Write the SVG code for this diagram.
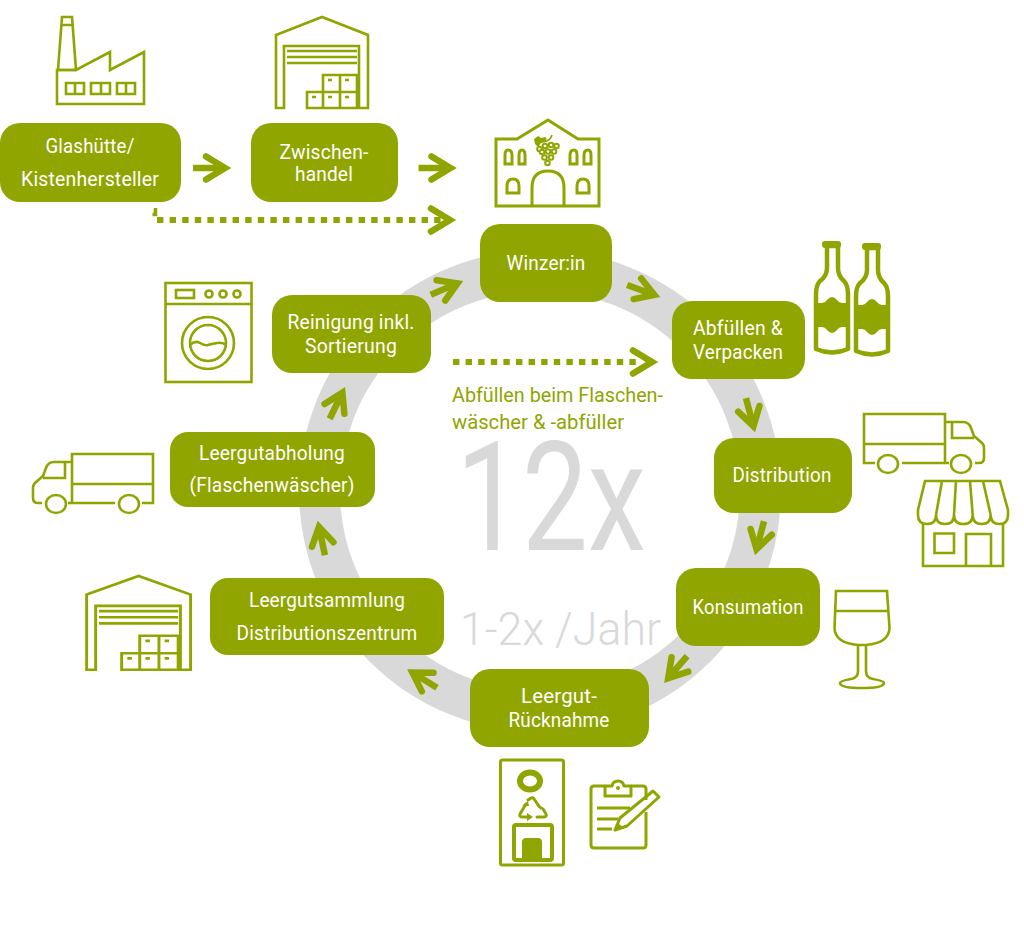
<svg xmlns="http://www.w3.org/2000/svg" xmlns:xlink="http://www.w3.org/1999/xlink" width="1024" height="932" viewBox="0 0 1024 932">
<style>
.box{fill:#90a500}
.t{font-family:Roboto,"Liberation Sans",sans-serif;font-size:19.5px;fill:#fff;text-anchor:middle;letter-spacing:.2px}
.g{font-family:Roboto,"Liberation Sans",sans-serif;fill:#d9d9d9;font-weight:400}
.i{fill:none;stroke:#90a500;stroke-width:2.6;stroke-linejoin:miter}
.a{fill:none;stroke:#90a500;stroke-width:6.500;stroke-linecap:round;stroke-linejoin:miter;stroke-miterlimit:8}
.s{fill:none;stroke:#90a500;stroke-width:6.500}
.d{fill:none;stroke:#90a500;stroke-width:6;stroke-dasharray:6.4 6.2}
.f{fill:#90a500}
.w{fill:#fff}
</style>
<defs>
<g id="arr"><path class="s" d="M-35,0H-8"/><path class="a" d="M-24,-11L-6,0L-24,11"/></g>
<g id="arrB"><path class="s" d="M-38,0H-8"/><path class="a" d="M-25,-11.500L-6,0L-25,11.500"/></g>
<g id="wh" class="i">
<path d="M1,19L47,1L93,19V92H84V30H9V92H1Z"/>
<path d="M12,35H82M12,41H82M12,47H82"/>
<path d="M32,76H48V92H32ZM48,76H65V92H48ZM65,76H82V92H65ZM48,59H65V76H48ZM65,59H82V76H65Z"/>
<path d="M37,81h4M53,81h4M70,81h4M53,64h4M70,64h4"/>
</g>
<g id="truck" class="i">
<path d="M875,463H864V414H945V463H902M864,444H945M945,422H963Q969,422 971,428L974,436L982,443Q984,445 984,448V458Q984,463 979,463H975M952,422V438H974M945,463H949"/>
<ellipse cx="888" cy="464" rx="10" ry="9"/>
<ellipse cx="961" cy="464" rx="10" ry="9"/>
</g>
<g id="bottle">
<path d="M827,246H838V268Q838,276 844,281Q848,285 848,294V349Q832,356 816,349V294Q816,285 820,281Q827,276 827,268Z" fill="#fff" stroke="#90a500" stroke-width="4.500" stroke-linejoin="round"/>
<rect class="f" x="822" y="241" width="19" height="7" rx="3"/>
<path class="f" d="M816,303H822Q825,303 827,300Q832,294 837,300Q839,303 842,303H848V327H842Q839,327 837,330Q832,336 827,330Q825,327 822,327H816Z"/>
</g>
<g id="grape"><circle class="f" r="3.300"/><circle class="w" r="1.300"/></g>
</defs>
<circle cx="540" cy="491" r="220.500" fill="none" stroke="#d9d9d9" stroke-width="41"/>
<text class="g" x="456" y="550" font-size="152" textLength="190" lengthAdjust="spacingAndGlyphs">12x</text>
<text class="g" x="460" y="645" font-size="47" textLength="201" lengthAdjust="spacingAndGlyphs" style="font-weight:300">1-2x /Jahr</text>
<g id="connectors">
<use xlink:href="#arrB" href="#arrB" transform="translate(231,168)"/>
<use xlink:href="#arrB" href="#arrB" transform="translate(456.500,168)"/>
<path fill="none" stroke="#90a500" stroke-width="3.500" d="M155.500,208V214.500H152.500"/>
<path class="d" d="M157,220H445"/>
<path class="a" d="M431,208.500L450,220L431,231.500"/>
<path class="d" d="M453,362H642"/>
<path class="a" d="M633,350.500L652,362L633,373.500"/>
<use xlink:href="#arr" href="#arr" transform="translate(660,297) rotate(20)"/>
<use xlink:href="#arr" href="#arr" transform="translate(463,281) rotate(-23)"/>
<use xlink:href="#arr" href="#arr" transform="translate(755,432) rotate(75)"/>
<use xlink:href="#arr" href="#arr" transform="translate(755,555) rotate(105)"/>
<use xlink:href="#arr" href="#arr" transform="translate(664.300,682.700) rotate(130.600)"/>
<use xlink:href="#arr" href="#arr" transform="translate(407.300,669.300) rotate(-148)"/>
<use xlink:href="#arr" href="#arr" transform="translate(317.700,521) rotate(-102)"/>
<use xlink:href="#arr" href="#arr" transform="translate(345,387.300) rotate(-64)"/>
</g>
<g id="glashuette">
<rect class="box" x="0" y="123" width="181" height="79" rx="20"/>
<text class="t" x="90" y="153" textLength="89" lengthAdjust="spacingAndGlyphs">Glashütte/</text>
<text class="t" x="90" y="186" textLength="138" lengthAdjust="spacingAndGlyphs">Kistenhersteller</text>
<g class="i"><path d="M62,17H72L76,70H58ZM61,25H73"/><path d="M57,70H76L110,52V70L144,52V104H57Z"/>
<path d="M66,83H84V94H66ZM75,83V94M91,83H110V94H91ZM101,83V94M117,83H135V94H117ZM126,83V94"/></g>
</g>
<g id="zwischenhandel">
<rect class="box" x="251" y="123" width="147" height="79" rx="20"/>
<text class="t" x="324" y="159" textLength="89" lengthAdjust="spacingAndGlyphs">Zwischen-</text>
<text class="t" x="324" y="181" textLength="58" lengthAdjust="spacingAndGlyphs">handel</text>
<use xlink:href="#wh" href="#wh" transform="translate(275,16)"/>
</g>
<g id="winzer">
<rect class="box" x="480" y="224" width="132" height="78" rx="20"/>
<text class="t" x="546" y="270" textLength="79" lengthAdjust="spacingAndGlyphs">Winzer:in</text>
<g class="i" style="stroke-width:3">
<path d="M496,139H517L548,120L578,139H599V206H496Z"/>
<path d="M505,164V155Q505,150 508,150Q512,150 512,155V164ZM519,164V155Q519,150 522,150Q525,150 525,155V164ZM570,164V155Q570,150 574,150Q577,150 577,155V164ZM584,164V155Q584,150 588,150Q591,150 591,155V164Z"/>
<path d="M507,193V186Q507,179 513,179Q519,179 519,186V193ZM577,193V186Q577,179 583,179Q589,179 589,186V193Z"/>
<path d="M532,206V188Q532,171 548,171Q564,171 564,188V206"/>
</g>
<path class="f" d="M534,139L538,136L541,138L546,137L547,142L541,143L538,147L535,144Z"/>
<path fill="none" stroke="#90a500" stroke-width="1.500" d="M547,141Q551,139 552,135"/>
<use xlink:href="#grape" href="#grape" x="545" y="146"/><use xlink:href="#grape" href="#grape" x="551" y="145"/><use xlink:href="#grape" href="#grape" x="556.500" y="146"/>
<use xlink:href="#grape" href="#grape" x="539.500" y="149"/>
<use xlink:href="#grape" href="#grape" x="542" y="152"/><use xlink:href="#grape" href="#grape" x="548" y="151.500"/><use xlink:href="#grape" href="#grape" x="554" y="151.500"/>
<use xlink:href="#grape" href="#grape" x="544.500" y="157.500"/><use xlink:href="#grape" href="#grape" x="551" y="157.500"/>
<use xlink:href="#grape" href="#grape" x="547.500" y="163"/>
</g>
<g id="abfuellen">
<rect class="box" x="672" y="301" width="133" height="78" rx="20"/>
<text class="t" x="738" y="335" textLength="90" lengthAdjust="spacingAndGlyphs">Abfüllen &amp;</text>
<text class="t" x="738" y="359" textLength="90" lengthAdjust="spacingAndGlyphs">Verpacken</text>
<use xlink:href="#bottle" href="#bottle"/>
<use xlink:href="#bottle" href="#bottle" transform="translate(40,2)"/>
</g>
<g id="distribution">
<rect class="box" x="714" y="438" width="138" height="75" rx="20"/>
<text class="t" x="782" y="482" textLength="99" lengthAdjust="spacingAndGlyphs">Distribution</text>
<use xlink:href="#truck" href="#truck"/>
<g class="i">
<path d="M925,481H1000L1008,510V515Q1008,524 999.500,524Q990.700,524 990.700,515Q990.700,524 981.700,524Q972.700,524 972.700,515Q972.700,524 963.300,524Q954,524 954,515Q954,524 945,524Q936,524 936,515Q936,524 927,524Q918,524 918,515V510Z"/>
<path d="M942,481L936,515M956,481L954,515M970,481L972.700,515M983,481L990.700,515"/>
<path d="M923,524V566H1003V524M934.500,533.500H954V553H934.500ZM966,566V534H991V566"/>
</g>
</g>
<g id="konsumation">
<rect class="box" x="676" y="568" width="144" height="78" rx="20"/>
<text class="t" x="748" y="614" textLength="111" lengthAdjust="spacingAndGlyphs">Konsumation</text>
<path class="i" d="M836,591H887L889.500,628Q889,643 866,645V671Q866,678 873,679Q884,681 884,683Q884,688 862,688Q840,688 840,683Q840,681 851,679Q858,678 858,671V645Q835,643 834.500,628ZM835,611H888M858,645H866"/>
</g>
<g id="ruecknahme">
<rect class="box" x="470" y="669" width="179" height="78" rx="20"/>
<text class="t" x="559" y="703" textLength="76" lengthAdjust="spacingAndGlyphs">Leergut-</text>
<text class="t" x="559" y="727" textLength="101" lengthAdjust="spacingAndGlyphs">Rücknahme</text>
<rect x="500.500" y="760" width="63" height="105" rx="2" fill="none" stroke="#90a500" stroke-width="3"/>
<ellipse cx="530" cy="781" rx="10" ry="8.500" fill="none" stroke="#90a500" stroke-width="6"/>
<g fill="none" stroke="#90a500" stroke-width="3" stroke-linejoin="round" stroke-linecap="round">
<path d="M528,800L531,798Q533,797 534,799L539,806"/>
<path d="M526,804L520,814Q519,817 522,817H527"/>
<path d="M537,817H544Q547,817 546,814L543,809"/>
</g>
<path class="f" d="M536,805L543,807L541,810ZM527,813V821L533,817ZM522,806L528,801L529,806Z"/>
<rect x="514" y="825" width="38" height="35" rx="2" fill="none" stroke="#90a500" stroke-width="4"/>
<path class="f" d="M522,862V842Q522,838 526,838H538Q542,838 542,842V862Z"/>
<g fill="none" stroke="#90a500" stroke-width="3" stroke-linejoin="round">
<path d="M605,786H594Q591,786 591,789V845Q591,848 594,848H643Q646,848 646,845V812M631,786H643Q646,786 646,789V800"/>
<path d="M605,796V786H612Q613,781 618,781Q623,781 624,786H631V796Z"/>
<path d="M597,808H630M597,819H618M597,829H612"/>
<path d="M615,830L620,818L653,791L659,797L627,826Z"/>
</g>
<path class="f" d="M615,831L618,823L624,828Z"/>
<circle class="f" cx="618" cy="788" r="2"/>
</g>
<g id="sammlung">
<rect class="box" x="210" y="578" width="234" height="77" rx="18"/>
<text class="t" x="327" y="607" textLength="156" lengthAdjust="spacingAndGlyphs">Leergutsammlung</text>
<text class="t" x="327" y="640" textLength="181" lengthAdjust="spacingAndGlyphs">Distributionszentrum</text>
<use xlink:href="#wh" href="#wh" transform="translate(85.500,575) scale(1.130,1.030)"/>
</g>
<g id="abholung">
<rect class="box" x="170" y="432" width="205" height="75" rx="18"/>
<text class="t" x="272" y="460" textLength="146" lengthAdjust="spacingAndGlyphs">Leergutabholung</text>
<text class="t" x="272" y="492" textLength="165" lengthAdjust="spacingAndGlyphs">(Flaschenwäscher)</text>
<use xlink:href="#truck" href="#truck" transform="translate(1017,40) scale(-1,1)"/>
</g>
<g id="reinigung">
<rect class="box" x="272" y="295" width="159" height="78" rx="20"/>
<text class="t" x="351" y="329" textLength="127" lengthAdjust="spacingAndGlyphs">Reinigung inkl.</text>
<text class="t" x="351" y="353" textLength="92" lengthAdjust="spacingAndGlyphs">Sortierung</text>
<g class="i">
<rect x="165.500" y="283" width="86" height="99"/>
<path d="M165.500,304H251.500"/>
<rect x="176" y="290" width="18" height="8"/>
<circle cx="209" cy="294" r="3.500"/><circle cx="223" cy="294" r="3.500"/><circle cx="237" cy="294" r="3.500"/>
<circle cx="208" cy="343" r="26"/><circle cx="208" cy="343" r="18"/>
<path d="M190,345Q195,340 200,343T208,345T217,343T226,345"/>
</g>
</g>
<g id="abfuellen-flaschenwaescher" font-family="Roboto,'Liberation Sans',sans-serif" font-size="19.500" fill="#90a500">
<text x="452" y="402" textLength="211" lengthAdjust="spacingAndGlyphs">Abfüllen beim Flaschen-</text>
<text x="452" y="429" textLength="172" lengthAdjust="spacingAndGlyphs">wäscher &amp; -abfüller</text>
</g>
</svg>
